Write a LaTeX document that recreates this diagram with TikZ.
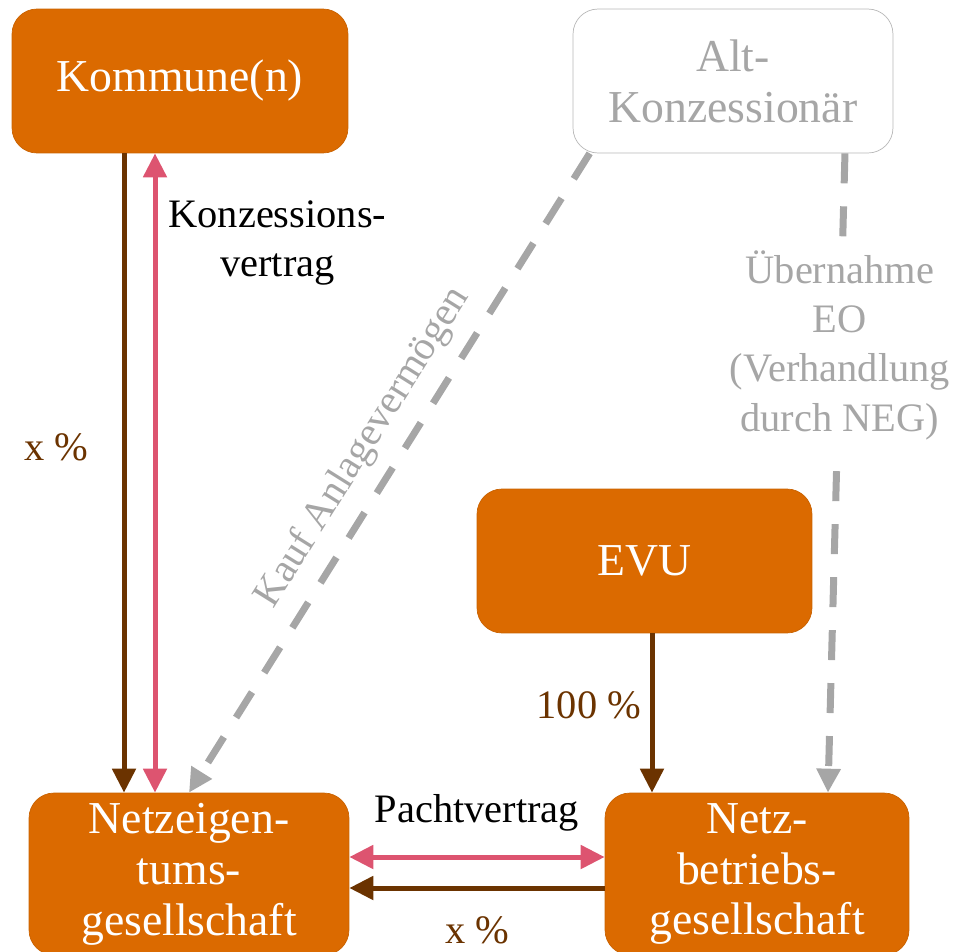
\documentclass[tikz,border=0pt]{standalone}
\usepackage{fontspec}
\setmainfont{Liberation Serif}
\usetikzlibrary{arrows.meta,positioning,calc}
\definecolor{orgbox}{HTML}{DB6A00}
\definecolor{share}{HTML}{6B3300}
\definecolor{contract}{HTML}{DD5470}
\definecolor{old}{HTML}{A6A6A6}
\definecolor{oldline}{HTML}{B8B8B8}
\tikzset{
  >={Triangle[length=0.48cm,width=0.46cm]},
  box/.style={fill=orgbox,draw=orgbox!92!black,line width=0.4pt,rounded corners=0.5cm,text=white,align=center,font=\fontsize{26}{29}\selectfont,inner sep=2pt},
  oldbox/.style={box,fill=white,draw=oldline,text=old},
  sharearr/.style={->,line width=0.1cm,draw=share},
  contractarr/.style={<->,line width=0.1cm,draw=contract},
  takeover/.style={->,line width=0.14cm,draw=old,dash pattern=on 0.6cm off 0.46cm},
  lbl/.style={font=\fontsize{23}{28}\selectfont,align=center,inner sep=2pt},
  sharelbl/.style={lbl,text=share},
  oldlbl/.style={lbl,text=old},
}

\begin{document}
\begin{tikzpicture}[x=0.02cm,y=-0.02cm]
\useasboundingbox (0,0) rectangle (954,951);

% parties
\node[box,minimum width=6.72cm,minimum height=2.88cm] (komm) at (180,81) {Kommune(n)};
\node[oldbox,minimum width=6.4cm,minimum height=2.88cm] (alt) at (733,81) {Alt-\\Konzessionär};
\node[box,minimum width=6.7cm,minimum height=2.88cm] (evu) at (644.5,561) {EVU};
\node[box,minimum width=6.4cm,minimum height=3.24cm] (neg) at (189,874) {Netzeigen-\\tums-\\gesellschaft};
\node[box,minimum width=6.08cm,minimum height=3.24cm] (nbg) at (757,874) {Netz-\\betriebs-\\gesellschaft};

% shares and contracts
\draw[sharearr] ([xshift=-1.12cm]komm.south) -- node[sharelbl,pos=0.46,left=0.6cm] {x \%} ([xshift=-1.12cm]komm.south |- neg.north);
\draw[contractarr] ([xshift=-0.5cm]komm.south) -- node[lbl,pos=0.14,right=0.15cm] {Konzessions-\\vertrag} ([xshift=-0.5cm]komm.south |- neg.north);
\draw[sharearr] ([xshift=0.15cm]evu.south) -- node[sharelbl,pos=0.45,left=0.1cm] {100 \%} ([xshift=0.15cm]evu.south |- nbg.north);
\draw[contractarr] ([yshift=0.34cm]neg.east) -- node[lbl,above=0.4cm] {Pachtvertrag} ([yshift=0.34cm]neg.east -| nbg.west);
\draw[sharearr] ([yshift=-0.28cm]nbg.west) -- node[sharelbl,below=0.45cm] {x \%} ([yshift=-0.28cm]nbg.west -| neg.east);

% takeover from the old concessionaire
\draw[takeover] ([xshift=0.34cm]alt.south west) -- node[oldlbl,sloped,above=0.2cm,pos=0.49] {Kauf Anlagevermögen} (neg.north);
\draw[takeover] ([xshift=2.24cm]alt.south) -- node[oldlbl,fill=white,pos=0.3,inner ysep=0.25cm] {Übernahme\\EO\\(Verhandlung\\durch NEG)} ([xshift=1.42cm]nbg.north);

\end{tikzpicture}
\end{document}
